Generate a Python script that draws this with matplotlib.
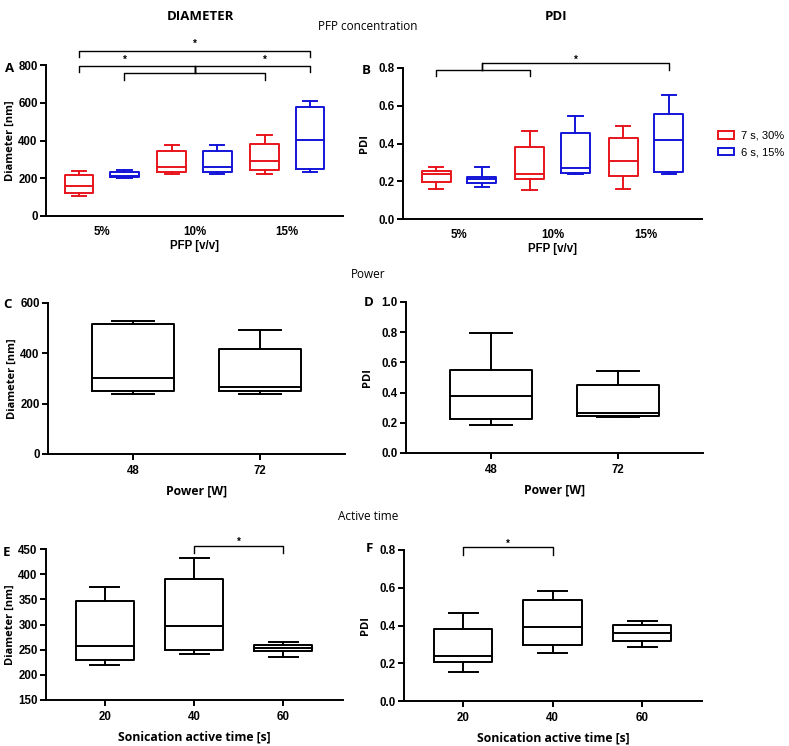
import matplotlib
matplotlib.use("Agg")
import matplotlib.pyplot as plt
from matplotlib import font_manager as fm
import numpy as np

# PFP concentration (A, B): 7 s, 30% (red) vs 6 s, 15% (blue)
pfp_labels = ['5%', '10%', '15%']
# each row: whislo, q1, median, q3, whishi
diam_red = [[106, 124, 159, 218, 237],
            [221, 234, 262, 342, 375],
            [223, 244, 294, 382, 430]]
diam_blue = [[200, 205, 214, 232, 244],
             [221, 234, 262, 342, 375],
             [235, 250, 402, 575, 609]]
pdi_red = [[0.160, 0.197, 0.238, 0.256, 0.273],
           [0.153, 0.210, 0.238, 0.381, 0.467],
           [0.160, 0.227, 0.308, 0.428, 0.493]]
pdi_blue = [[0.171, 0.190, 0.211, 0.224, 0.273],
            [0.238, 0.245, 0.270, 0.458, 0.546],
            [0.238, 0.250, 0.416, 0.557, 0.659]]

# Power (C, D)
power_labels = ['48', '72']
power_diam = [[240, 250, 303, 515, 528],
              [238, 250, 268, 417, 494]]
power_pdi = [[0.183, 0.225, 0.380, 0.552, 0.795],
             [0.236, 0.247, 0.265, 0.453, 0.543]]

# Sonication active time (E, F)
time_labels = ['20', '40', '60']
time_diam = [[219, 230, 258, 346, 374],
             [242, 249, 297, 390, 433],
             [235, 247, 253, 259, 265]]
time_pdi = [[0.152, 0.208, 0.239, 0.380, 0.465],
            [0.256, 0.295, 0.392, 0.535, 0.585],
            [0.288, 0.316, 0.359, 0.401, 0.424]]

legend_labels = ['7 s, 30%', '6 s, 15%']
RED = '#e8141c'
BLUE = '#1414d8'

LABFONT = 'Open Sans'
W, H = 789, 746
LW = 1.4
TFS = 8.3   # tick label size
YFS = 8.0   # y label size


def arial_like(bold):
    # matplotlib tends to pick "Liberation Sans Narrow" for bold; use the file directly
    want = 'LiberationSans-Bold.ttf' if bold else 'LiberationSans-Regular.ttf'
    for f in fm.findSystemFonts():
        if f.endswith(want):
            return fm.FontProperties(fname=f)
    return fm.FontProperties(family='DejaVu Sans', weight='bold' if bold else 'normal')


TICKPROP = arial_like(True)
REGPROP = arial_like(False)


def tp_(size):
    p = TICKPROP.copy()
    p.set_size(size)
    return p


def stats(rows):
    return [dict(whislo=r[0], q1=r[1], med=r[2], q3=r[3], whishi=r[4], fliers=[])
            for r in rows]


def make_ax(l, r, t, b):
    ax = fig.add_axes([l / W, 1 - b / H, (r - l) / W, (b - t) / H])
    for s in ['top', 'right']:
        ax.spines[s].set_visible(False)
    for s in ['left', 'bottom']:
        ax.spines[s].set_linewidth(LW)
    ax.tick_params(width=LW, length=4, pad=2)
    return ax


def draw_boxes(ax, rows, pos, width, color):
    props = dict(color=color, linewidth=LW)
    ax.bxp(stats(rows), positions=pos, widths=width, showfliers=False,
           boxprops=props, whiskerprops=props, capprops=props,
           medianprops=props, manage_ticks=False)


def style_ticks(ax, yticks, yfmt, xpos, xlabels, xticklen=4, xpad=4):
    ax.set_yticks(yticks)
    ax.set_yticklabels([yfmt.format(v) for v in yticks], fontproperties=tp_(TFS))
    ax.set_xticks(xpos)
    ax.set_xticklabels(xlabels, fontproperties=tp_(TFS))
    ax.tick_params(axis='x', length=xticklen, pad=xpad)


def bracket(ax, x1, x2, y, drop):
    ax.plot([x1, x1, x2, x2], [y - drop, y, y, y - drop], color='black',
            lw=1.0, clip_on=False)


def star(ax, x, y):
    ax.text(x, y, '*', ha='center', va='center', fontproperties=tp_(7))


def letter(s, x, y):
    fig.text(x / W, 1 - y / H, s, ha='center', va='center', fontsize=9.5,
             fontweight='bold', fontfamily=LABFONT)


fig = plt.figure(figsize=(W / 100, H / 100), dpi=100)

grp = np.arange(len(pfp_labels))
off, bw = 0.245, 0.31

# A - diameter vs PFP
axA = make_ax(46, 343, 65, 216)
draw_boxes(axA, diam_red, grp - off, bw, RED)
draw_boxes(axA, diam_blue, grp + off, bw, BLUE)
axA.set_xlim(-0.6, 2.6)
axA.set_ylim(0, 800)
style_ticks(axA, [0, 200, 400, 600, 800], '{:.0f}', grp, pfp_labels, xticklen=0, xpad=7)
axA.set_ylabel('Diameter [nm]', fontfamily=LABFONT, fontweight='bold', fontsize=YFS, labelpad=2)
axA.set_xlabel('PFP [v/v]', fontproperties=tp_(TFS), labelpad=2)
bracket(axA, grp[0] - off, grp[2] + off, 876, 34)
star(axA, grp[1], 912)
bracket(axA, grp[0] - off, grp[1], 796, 33)
bracket(axA, grp[1], grp[2] + off, 796, 33)
bracket(axA, grp[0] + off, grp[2] - off, 758, 38)
axA.plot([grp[1], grp[1]], [758, 796], color='black', lw=1.0, clip_on=False)
star(axA, grp[0] + off, 825)
star(axA, grp[2] - off, 825)
letter('A', 10, 68)

# B - PDI vs PFP
axB = make_ax(403, 702, 68, 219)
draw_boxes(axB, pdi_red, grp - off, bw, RED)
draw_boxes(axB, pdi_blue, grp + off, bw, BLUE)
axB.set_xlim(-0.6, 2.6)
axB.set_ylim(0, 0.8)
style_ticks(axB, [0, 0.2, 0.4, 0.6, 0.8], '{:.1f}', grp, pfp_labels, xticklen=0, xpad=7)
axB.set_ylabel('PDI', fontfamily=LABFONT, fontweight='bold', fontsize=YFS, labelpad=6)
axB.set_xlabel('PFP [v/v]', fontproperties=tp_(TFS), labelpad=2)
bracket(axB, grp[0] - off, grp[1] - off, 0.79, 0.035)
bracket(axB, grp[0] + off, grp[2] + off, 0.825, 0.035)
axB.plot([grp[0] + off, grp[0] + off], [0.79, 0.825], color='black', lw=1.0, clip_on=False)
star(axB, (grp[0] + grp[2]) / 2 + off, 0.845)
letter('B', 366, 71)

# legend
handles = [plt.Rectangle((0, 0), 1, 1, facecolor='white', edgecolor=c, lw=1.4)
           for c in (RED, BLUE)]
legprop = REGPROP.copy()
legprop.set_size(8)
fig.legend(handles, legend_labels, loc='center left',
           bbox_to_anchor=(708 / W, 1 - 144 / H), frameon=False,
           prop=legprop, handlelength=1.4,
           handleheight=0.7, handletextpad=0.7, labelspacing=0.6)

# C - diameter vs power
pw = np.arange(len(power_labels))
axC = make_ax(48, 345, 303, 454)
draw_boxes(axC, power_diam, pw, 0.65, 'black')
axC.set_xlim(-0.67, 1.67)
axC.set_ylim(0, 600)
style_ticks(axC, [0, 200, 400, 600], '{:.0f}', pw, power_labels)
axC.set_ylabel('Diameter [nm]', fontfamily=LABFONT, fontweight='bold', fontsize=YFS, labelpad=2)
axC.set_xlabel('Power [W]', fontfamily=LABFONT, fontweight='bold', fontsize=8.8, labelpad=5)
letter('C', 8, 305)

# D - PDI vs power
axD = make_ax(406, 703, 302, 453)
draw_boxes(axD, power_pdi, pw, 0.65, 'black')
axD.set_xlim(-0.67, 1.67)
axD.set_ylim(0, 1.0)
style_ticks(axD, [0, 0.2, 0.4, 0.6, 0.8, 1.0], '{:.1f}', pw, power_labels)
axD.set_ylabel('PDI', fontfamily=LABFONT, fontweight='bold', fontsize=YFS, labelpad=6)
axD.set_xlabel('Power [W]', fontfamily=LABFONT, fontweight='bold', fontsize=8.8, labelpad=5)
letter('D', 369, 302)

# E - diameter vs active time
tp = np.arange(len(time_labels))
axE = make_ax(46, 343, 549, 700)
draw_boxes(axE, time_diam, tp, 0.65, 'black')
axE.set_xlim(-0.66, 2.67)
axE.set_ylim(150, 450)
style_ticks(axE, list(range(150, 451, 50)), '{:.0f}', tp, time_labels)
axE.set_ylabel('Diameter [nm]', fontfamily=LABFONT, fontweight='bold', fontsize=YFS, labelpad=2)
axE.set_xlabel('Sonication active time [s]', fontfamily=LABFONT, fontweight='bold',
               fontsize=8.8, labelpad=5)
bracket(axE, tp[1], tp[2], 455, 13)
star(axE, (tp[1] + tp[2]) / 2, 465)
letter('E', 6, 552)

# F - PDI vs active time
axF = make_ax(404, 702, 550, 701)
draw_boxes(axF, time_pdi, tp, 0.65, 'black')
axF.set_xlim(-0.66, 2.67)
axF.set_ylim(0, 0.8)
style_ticks(axF, [0, 0.2, 0.4, 0.6, 0.8], '{:.1f}', tp, time_labels)
axF.set_ylabel('PDI', fontfamily=LABFONT, fontweight='bold', fontsize=YFS, labelpad=6)
axF.set_xlabel('Sonication active time [s]', fontfamily=LABFONT, fontweight='bold',
               fontsize=8.8, labelpad=5)
bracket(axF, tp[0], tp[1], 0.815, 0.04)
star(axF, (tp[0] + tp[1]) / 2, 0.835)
letter('F', 369, 549)

# column and section headings
for txt, x in [('DIAMETER', 200), ('PDI', 556)]:
    fig.text(x / W, 1 - 17 / H, txt, ha='center', va='center', fontsize=9.5,
             fontweight='bold', fontfamily=LABFONT)
for txt, y in [('PFP concentration', 26), ('Power', 274), ('Active time', 516)]:
    fig.text(368 / W, 1 - y / H, txt, ha='center', va='center', fontsize=8.5,
             fontfamily=LABFONT)

fig.savefig('out.png', dpi=100, facecolor='white')
